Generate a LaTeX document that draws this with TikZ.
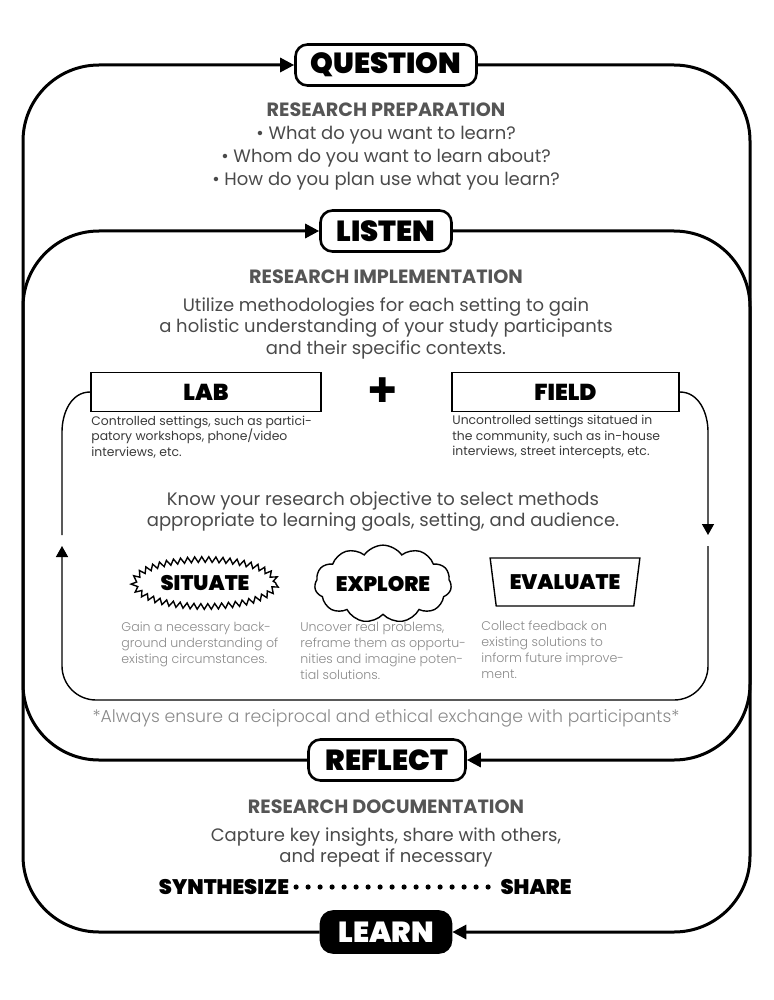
\documentclass[tikz,border=0pt]{standalone}
\usepackage{fontspec}
\usetikzlibrary{arrows.meta,shapes.geometric,shapes.symbols,decorations.pathmorphing}
\setmainfont{Poppins}
\IfFontExistsTF{Poppins Black}{\newfontfamily\heavy{Poppins Black}}{\newcommand\heavy{\bfseries}}
\IfFontExistsTF{Poppins Light}{\newfontfamily\light{Poppins Light}}{\newcommand\light{}}
\newfontfamily\plusfont{DejaVu Sans}
\definecolor{headgray}{HTML}{555555}
\definecolor{bodygray}{HTML}{4A4A4A}
\definecolor{descgray}{HTML}{3A3A3A}
\definecolor{softgray}{HTML}{8A8A8A}
\begin{document}
\begin{tikzpicture}[x=0.5pt, y=-0.5pt,
    phase/.style={draw, line width=1.3pt, rounded corners=6pt, fill=white,
        font=\heavy\fontsize{14.5}{16}\selectfont, minimum height=20.5pt, inner sep=0pt},
    setbox/.style={draw, line width=0.8pt, font=\heavy\fontsize{11.5}{13}\selectfont,
        minimum height=19.5pt, inner sep=0pt},
    method/.style={draw, line width=0.7pt, font=\heavy\fontsize{10.5}{12}\selectfont, inner sep=0pt},
    head/.style={font=\bfseries\fontsize{9.6}{11}\selectfont, text=headgray},
    body/.style={font=\fontsize{9}{11.5}\selectfont, text=bodygray, align=center},
    setdesc/.style={font=\fontsize{6.2}{7.75}\selectfont, text=descgray, align=left, anchor=west, inner sep=0pt},
    methdesc/.style={font=\light\fontsize{6.3}{8}\selectfont, text=softgray, align=left, anchor=west, inner sep=0pt},
    note/.style={font=\light\fontsize{8.65}{10}\selectfont, text=softgray},
    endword/.style={font=\heavy\fontsize{10.5}{12}\selectfont},
    outerline/.style={line width=1.5pt, rounded corners=38pt},
    labline/.style={line width=0.7pt},
    bigtip/.style={-{Triangle[length=7pt,width=7pt]}},
    smalltip/.style={-{Triangle[length=5.5pt,width=6pt]}},
    dots/.style={line width=2.6pt, line cap=round, dash pattern=on 0pt off 6pt}
    ]
    \useasboundingbox (0,0) rectangle (773,1000);

    %%%%%%%%%% Fasi %%%%%%%%%%
    \node[phase, minimum width=90.5pt] (question) at (386,65) {QUESTION};
    \node[phase, minimum width=65.5pt] (listen) at (386,231) {LISTEN};
    \node[phase, minimum width=78.5pt] (reflect) at (387,760) {REFLECT};
    \node[phase, minimum width=65pt, fill=black, text=white] (learn) at (386,932) {LEARN};

    %%%%%%%%%% Testi %%%%%%%%%%
    \node[head] (prepT) at (386,110) {RESEARCH PREPARATION};
    \node[body] (prepB) at (386,158) {• What do you want to learn?\\• Whom do you want to learn about?\\• How do you plan use what you learn?};
    \node[head] (implT) at (386,277) {RESEARCH IMPLEMENTATION};
    \node[body, font=\fontsize{9}{10.75}\selectfont] (implB) at (386,328) {Utilize methodologies for each setting to gain\\a holistic understanding of your study participants\\and their specific contexts.};
    \node[body, font=\fontsize{9}{10.5}\selectfont] (knowB) at (383,512) {Know your research objective to select methods\\appropriate to learning goals, setting, and audience.};
    \node[note] (always) at (386,718) {*Always ensure a reciprocal and ethical exchange with participants*};
    \node[head] (docT) at (386,807) {RESEARCH DOCUMENTATION};
    \node[body, font=\fontsize{9}{10.5}\selectfont] (docB) at (386,847) {Capture key insights, share with others,\\and repeat if necessary};

    %%%%%%%%%% Ambienti %%%%%%%%%%
    \node[setbox, minimum width=115pt] (lab) at (206,392) {LAB};
    \node[font=\plusfont\fontsize{17}{17}\selectfont] (plus) at (383,390) {✚};
    \node[setbox, minimum width=113.5pt] (field) at (565.5,392) {FIELD};
    \node[setdesc] (labD) at (91,437) {Controlled settings, such as partici-\\patory workshops, phone/video\\interviews, etc.};
    \node[setdesc] (fieldD) at (452,437) {Uncontrolled settings sitatued in\\the community, such as in-house\\interviews, street intercepts, etc.};

    %%%%%%%%%% Metodi %%%%%%%%%%
    \node[method, ellipse, minimum width=71pt, minimum height=23.5pt, decorate,
        decoration={zigzag, segment length=3.5pt, amplitude=1.4pt}] (situate) at (205,583) {SITUATE};
    \node[method, cloud, cloud puffs=11, cloud puff arc=110, aspect=2.2,
        minimum width=67pt, minimum height=31pt] (explore) at (383,584) {EXPLORE};
    \node[method, trapezium, shape border rotate=180, trapezium left angle=72, trapezium right angle=72,
        trapezium stretches=true, minimum width=75pt, minimum height=24pt] (evaluate) at (565,582) {EVALUATE};
    \node[methdesc] (situateD) at (121,644) {Gain a necessary back-\\ground understanding of\\existing circumstances.};
    \node[methdesc] (exploreD) at (300,651) {Uncover real problems,\\reframe them as opportu-\\nities and imagine poten-\\tial solutions.};
    \node[methdesc] (evaluateD) at (481,650) {Collect feedback on\\existing solutions to\\inform future improve-\\ment.};

    %%%%%%%%%% Sintesi %%%%%%%%%%
    \node[endword] (synth) at (224,887) {SYNTHESIZE};
    \node[endword] (share) at (536,887) {SHARE};
    \draw[dots] (synth) -- (share);

    %%%%%%%%%% Punti %%%%%%%%%%
    \coordinate (oNE) at (750,65);  \coordinate (oSE) at (750,932);
    \coordinate (oSW) at (23,932);  \coordinate (oNW) at (23,65);
    \coordinate (iNE) at (750,231); \coordinate (iSE) at (750,760);
    \coordinate (iSW) at (23,760);  \coordinate (iNW) at (23,231);
    \coordinate (fBend) at (708,432); \coordinate (fDown) at (708,535);
    \coordinate (fUp) at (708,546);   \coordinate (cSE) at (708,700);
    \coordinate (cSW) at (62,700);    \coordinate (lUp) at (62,546);
    \coordinate (lDown) at (62,535);  \coordinate (lBend) at (62,432);

    %%%%%%%%%% Cicli %%%%%%%%%%
    \draw[outerline, bigtip] (question.east) -- (oNE) -- (oSE) -- (learn.east);
    \draw[outerline, bigtip] (learn.west) -- (oSW) -- (oNW) -- (question.west);
    \draw[outerline, bigtip] (listen.east) -- (iNE) -- (iSE) -- (reflect.east);
    \draw[outerline, bigtip] (reflect.west) -- (iSW) -- (iNW) -- (listen.west);

    \draw[labline, smalltip] (field.east) to[out=0, in=90] (fBend) -- (fDown);
    \draw[labline, smalltip, rounded corners=17pt] (fUp) -- (cSE) -- (cSW) -- (lUp);
    \draw[labline] (lDown) -- (lBend) to[out=90, in=180] (lab.west);
\end{tikzpicture}
\end{document}
